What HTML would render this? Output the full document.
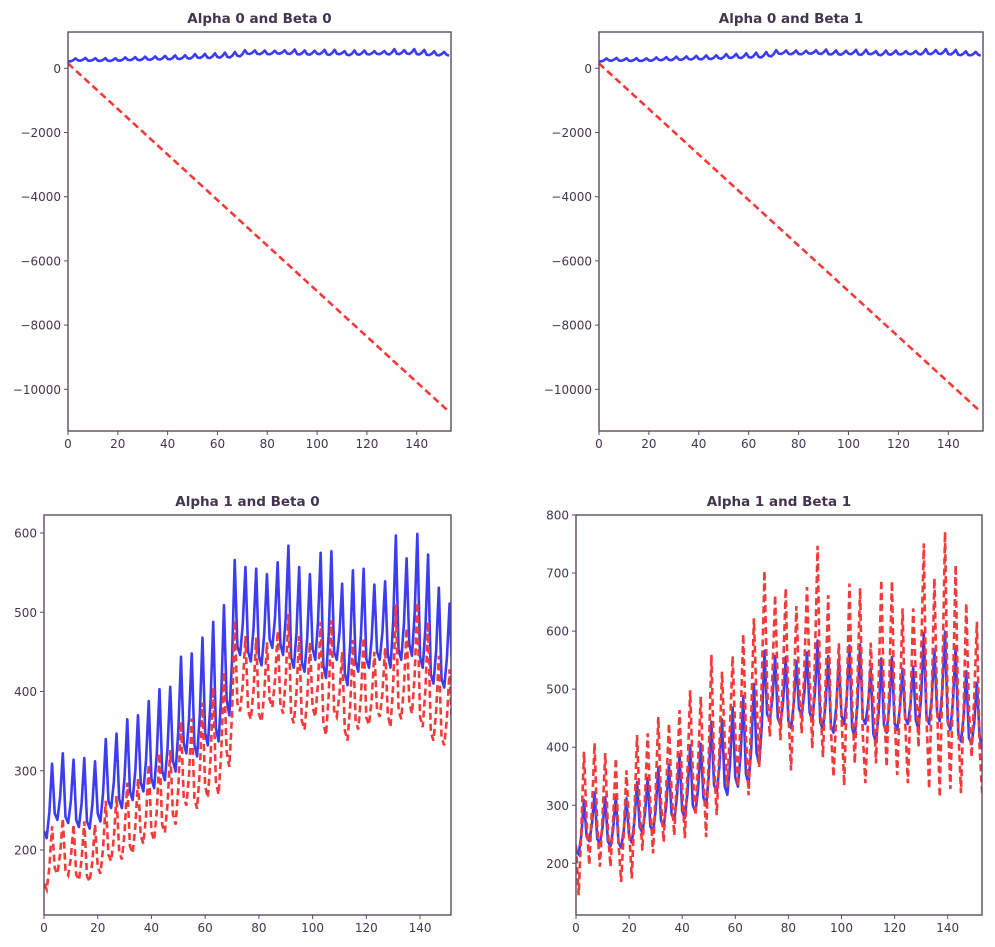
<!DOCTYPE html>
<html><head><meta charset="utf-8"><style>
html,body{margin:0;padding:0;background:#fff;}
svg{display:block;font-family:"DejaVu Sans","Liberation Sans",sans-serif;}
</style></head><body>
<svg id="fig" width="995" height="947" viewBox="0 0 995 947" xmlns="http://www.w3.org/2000/svg"></svg>
<script>
const xTicks = [0,20,40,60,80,100,120,140];
const yTicksTop = [0,-2000,-4000,-6000,-8000,-10000];
const yTicksBL = [200,300,400,500,600];
const yTicksBR = [200,300,400,500,600,700,800];
const titles = ["Alpha 0 and Beta 0","Alpha 0 and Beta 1","Alpha 1 and Beta 0","Alpha 1 and Beta 1"];

const blueSeries = [224,215,248,309, 246,238,267,322, 242,234,262,314, 238,229,259,316, 236,227,257,312,
 246,236,272,340, 262,253,286,347, 264,253,292,365, 274,263,300,370, 285,274,314,388,
 290,278,322,403, 300,288,329,406, 313,299,350,444, 335,322,366,448, 333,318,370,468,
 348,332,387,488, 354,337,397,509, 390,370,439,566, 457,446,485,557, 450,438,479,555,
 445,433,473,548, 466,455,493,563, 460,446,494,584, 443,430,474,557, 437,425,468,548,
 454,440,487,575, 433,417,473,577, 450,440,474,536, 423,408,459,553, 438,425,471,555,
 441,430,467,535, 450,440,475,539, 447,430,488,597, 453,440,485,568, 460,445,499,599,
 444,430,480,573, 422,410,452,531, 416,405,442,511, 420,396];

const redBL = [158,150,178,230, 177,170,195,240, 174,168,190,232, 169,162,188,236, 167,160,185,232,
 179,170,202,262, 194,186,215,268, 198,188,222,285, 205,196,229,290, 218,208,243,308,
 223,212,250,322, 232,222,258,326, 245,232,278,362, 267,256,295,366, 265,252,299,386,
 280,266,315,405, 286,270,324,425, 324,305,370,490, 385,375,408,470, 375,365,401,468,
 372,362,397,462, 390,380,414,476, 385,372,416,498, 371,360,399,470, 363,352,391,462,
 380,368,410,488, 360,345,396,490, 376,368,397,450, 351,338,382,465, 364,352,393,468,
 367,358,390,450, 377,368,398,455, 371,355,409,510, 377,365,405,480, 386,372,421,512,
 368,355,402,488, 349,338,375,445, 342,332,366,428, 345,320];

const redBR = [231,145,256,392, 271,197,292,407, 263,194,282,390, 259,194,278,381, 235,168,254,360,
 260,174,285,421, 293,222,313,424, 299,217,323,452, 308,237,329,441, 324,248,345,464,
 332,243,358,498, 354,283,375,487, 355,245,386,559, 369,283,394,530, 411,332,433,557,
 424,332,450,595, 424,317,454,622, 484,366,518,704, 503,418,528,662, 504,412,530,674,
 459,360,487,643, 512,424,537,676, 520,398,555,747, 481,383,509,662, 430,349,453,579,
 456,334,491,682, 478,372,508,674, 423,338,447,580, 483,372,514,688, 478,366,510,686,
 452,352,481,639, 443,338,473,639, 523,400,558,751, 455,328,491,691, 474,314,520,771,
 463,328,502,714, 435,321,468,648, 465,383,488,616, 400,320];

const redTopX = [0,153];
const redTopY = [150,-10700];

const NS="http://www.w3.org/2000/svg";
const svg=document.getElementById('fig');
const TXT="#45344f", SP="#5b4a63";
function mk(tag,attrs,parent){const e=document.createElementNS(NS,tag);for(const k in attrs)e.setAttribute(k,attrs[k]);(parent||svg).appendChild(e);return e;}

const panels=[
 {l:68,r:451,t:32,b:431,x0:68,xs:2.491,y0v:0,y0p:68.3,ys:0.0321,yt:yTicksTop,top:true,red:null},
 {l:599,r:983,t:32,b:431,x0:599,xs:2.495,y0v:0,y0p:68.3,ys:0.0321,yt:yTicksTop,top:true,red:null},
 {l:44,r:451,t:515,b:915,x0:44,xs:2.686,y0v:200,y0p:850,ys:0.7925,yt:yTicksBL,top:false,red:redBL},
 {l:576,r:982,t:515,b:915,x0:576,xs:2.655,y0v:200,y0p:863.3,ys:0.5805,yt:yTicksBR,top:false,red:redBR}
];

panels.forEach((p,i)=>{
  const g=mk('g',{});
  
  
  const X=v=>p.x0+v*p.xs;
  const Y=v=>p.y0p-(v-p.y0v)*p.ys;
  const cid='clip'+i;
  const cp=mk('clipPath',{id:cid},g);
  mk('rect',{x:p.l,y:p.t,width:p.r-p.l,height:p.b-p.t},cp);
  let d=blueSeries.map((v,k)=>(k?'L':'M')+X(k).toFixed(2)+','+Y(v).toFixed(2)).join('');
  const bl=mk('path',{d:d,fill:'none',stroke:'#3c3cf5','stroke-width':2.6,'clip-path':'url(#'+cid+')','stroke-linejoin':'round'},g);
  
  
  let rd;
  if(p.top){rd=redTopX.map((x,k)=>(k?'L':'M')+X(x).toFixed(2)+','+Y(redTopY[k]).toFixed(2)).join('');}
  else{rd=p.red.map((v,k)=>(k?'L':'M')+X(k).toFixed(2)+','+Y(v).toFixed(2)).join('');}
  const rl=mk('path',{d:rd,fill:'none',stroke:'#f53a3a','stroke-width':2.6,'stroke-dasharray':'7,4','clip-path':'url(#'+cid+')'},g);
  
  
  const fr=mk('rect',{x:p.l,y:p.t,width:p.r-p.l,height:p.b-p.t,fill:'none',stroke:SP,'stroke-width':1.4},g);
  
  
  xTicks.forEach(v=>{
    const x=X(v);
    mk('line',{x1:x,x2:x,y1:p.b,y2:p.b+4,stroke:SP,'stroke-width':1},g);
    const t=mk('text',{x:x,y:p.b+17,'text-anchor':'middle','font-size':12,fill:TXT},g);
    t.textContent=v;
    
    
  });
  p.yt.forEach(v=>{
    const y=Y(v);
    mk('line',{x1:p.l-4,x2:p.l,y1:y,y2:y,stroke:SP,'stroke-width':1},g);
    const t=mk('text',{x:p.l-7,y:y+4.5,'text-anchor':'end','font-size':12,fill:TXT},g);
    t.textContent=(v<0?'\u2212'+Math.abs(v):v);
    
    
  });
  const tt=mk('text',{x:(p.l+p.r)/2,y:p.t-9,'text-anchor':'middle','font-size':13.5,'font-weight':'600',fill:TXT},g);
  tt.textContent=titles[i];
  
  
});
</script>
</body></html>
